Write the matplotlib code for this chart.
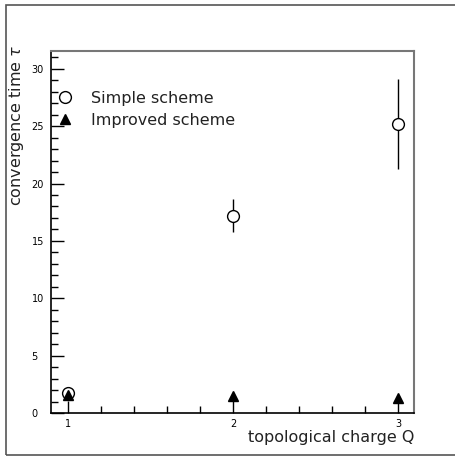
import matplotlib
matplotlib.use("Agg")
import matplotlib.pyplot as plt
from matplotlib.patches import Rectangle
from matplotlib.lines import Line2D
from matplotlib.ticker import MultipleLocator

# data
q = [1, 2, 3]
tau_simple = [1.7, 17.2, 25.2]
err_simple = [0.0, 1.45, 3.9]
tau_improved = [1.6, 1.5, 1.3]

W, H = 455, 461
fig = plt.figure(figsize=(W / 100, H / 100), dpi=100)

# outer frame (left, top, bottom visible)
fig.patches.append(Rectangle((6 / W, 1 - 455 / H), 460 / W, 450 / H,
                             transform=fig.transFigure, fill=False,
                             edgecolor="#555555", linewidth=1.2))

ax = fig.add_axes([51 / W, 1 - 413 / H, 363 / W, 362 / H])

ax.errorbar(q, tau_simple, yerr=err_simple, fmt="o", mfc="white", mec="black",
            ecolor="black", elinewidth=1.0, markersize=8.5, markeredgewidth=1.0,
            capsize=0, zorder=3)
ax.plot(q, tau_improved, "^", color="black", markersize=7.5, linestyle="none",
        zorder=4)

ax.set_xlim(0.897, 3.097)
ax.set_ylim(0, 31.55)
ax.xaxis.set_major_locator(MultipleLocator(1))
ax.xaxis.set_minor_locator(MultipleLocator(0.2))
ax.yaxis.set_major_locator(MultipleLocator(5))
ax.yaxis.set_minor_locator(MultipleLocator(1))
ax.tick_params(which="both", direction="in", width=1.0, labelsize=7, color="black")
ax.tick_params(which="major", length=9)
ax.tick_params(which="minor", length=5)
ax.tick_params(axis="y", pad=14)
ax.tick_params(axis="x", pad=4)
for lab in ax.get_yticklabels():
    lab.set_horizontalalignment("left")

for s in ["left", "bottom"]:
    ax.spines[s].set_color("black")
    ax.spines[s].set_linewidth(1.2)
for s in ["top", "right"]:
    ax.spines[s].set_color("#777777")
    ax.spines[s].set_linewidth(1.5)

fig.text(414 / W, 1 - 437 / H, "topological charge Q", ha="right", va="center",
         fontsize=11.5, color="#222222")
fig.text(17 / W, 1 - 45 / H, r"convergence time $\tau$", rotation=90,
         ha="center", va="top", fontsize=11.5, color="#222222")

# legend handles without the error bar stroke
h1 = Line2D([], [], marker="o", linestyle="none", mfc="white", mec="black",
            markersize=8.5, markeredgewidth=1.0)
h2 = Line2D([], [], marker="^", linestyle="none", color="black", markersize=7.5)
leg = ax.legend([h1, h2], ["Simple scheme", "Improved scheme"],
                loc="upper left", bbox_to_anchor=(-0.035, 0.93), frameon=False,
                fontsize=11.5, handletextpad=0.9, labelspacing=0.45,
                handlelength=1.5)
for t in leg.get_texts():
    t.set_color("#222222")

fig.savefig("out.png", dpi=100)
